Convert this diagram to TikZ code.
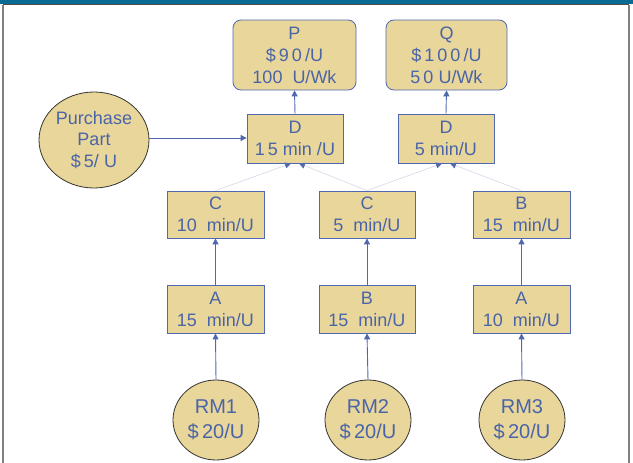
\documentclass[tikz,border=0pt]{standalone}
\usepackage{fontspec}
\setmainfont{Liberation Sans}
\usetikzlibrary{arrows.meta}
\definecolor{fillc}{HTML}{E9D69A}
\definecolor{bluec}{HTML}{4A64A8}
\definecolor{lineb}{HTML}{5068B0}
\definecolor{pale}{HTML}{D4D8EA}
\definecolor{teal}{HTML}{0A6A92}
\tikzset{
  opbox/.style={draw=lineb, line width=0.8pt, fill=fillc, text=bluec, align=center, inner sep=0pt,
    font=\fontsize{18}{22}\selectfont},
  prodbox/.style={opbox, rounded corners=8pt},
  rmtext/.style={text=bluec, align=center, font=\fontsize{20}{25}\selectfont},
  flow/.style={draw=lineb, line width=0.9pt, -{Triangle[length=6pt,width=6pt]}},
  thin/.style={draw=pale, line width=0.6pt, -{Triangle[length=6pt,width=6pt,fill=lineb,color=lineb]}}
}
\begin{document}
\begin{tikzpicture}[x=1pt,y=-1pt]
\useasboundingbox (0,0) rectangle (633,463);
\fill[white] (0,0) rectangle (633,463);
\fill[teal] (0,0) rectangle (633,4);
\draw[black!70, line width=1pt] (3,4.5) -- (629,4.5);
\draw[gray, line width=1.4pt] (3,4.5) -- (3,463);
\draw[gray, line width=1.4pt] (629,4.5) -- (629,463);

% product boxes
\node[prodbox, minimum width=123pt, minimum height=70pt] (P) at (294.5,55) {P\\\$\,9\,0\,/U\\100\ \ U/Wk};
\node[prodbox, minimum width=121pt, minimum height=70pt] (Q) at (446.5,55) {Q\\\$\,1\,0\,0\,/U\\5\,0\ U/Wk};
% D boxes
\node[opbox, minimum width=96pt, minimum height=49pt] (D1) at (295,138.5) {D\\1\,5 min /U};
\node[opbox, minimum width=96pt, minimum height=49pt] (D2) at (446,138.5) {D\\5 min/U};
% C/B row
\node[opbox, minimum width=97pt, minimum height=47pt] (C1) at (215.5,214.5) {C\\10\ \ min/U};
\node[opbox, minimum width=96pt, minimum height=47pt] (C2) at (367,214.5) {C\\5\ \ min/U};
\node[opbox, minimum width=97pt, minimum height=47pt] (B1) at (521.5,214.5) {B\\15\ \ min/U};
% A/B row
\node[opbox, minimum width=97pt, minimum height=48pt] (A1) at (215.5,309) {A\\15\ \ min/U};
\node[opbox, minimum width=96pt, minimum height=48pt] (B2) at (367,309) {B\\15\ \ min/U};
\node[opbox, minimum width=97pt, minimum height=48pt] (A2) at (521.5,309) {A\\10\ \ min/U};

% circles
\draw[black!80, line width=0.8pt, fill=fillc] (94,140) ellipse (55pt and 48pt);
\node[text=bluec, align=center, font=\fontsize{18}{21.5}\selectfont] (PP) at (94,140) {Purchase\\Part\\\$\,5/ U};
\coordinate (PPr) at (149,138);
\draw[black!80, line width=0.8pt, fill=fillc] (216,420) ellipse (43pt and 40pt);
\node[rmtext] (R1) at (216,420) {RM1\\\$\,20/U};
\draw[black!80, line width=0.8pt, fill=fillc] (368,420) ellipse (43pt and 40pt);
\node[rmtext] (R2) at (368,420) {RM2\\\$\,20/U};
\draw[black!80, line width=0.8pt, fill=fillc] (522,420) ellipse (43pt and 40pt);
\node[rmtext] (R3) at (522,420) {RM3\\\$\,20/U};
\coordinate (R1t) at (216,380);
\coordinate (R2t) at (368,380);
\coordinate (R3t) at (522,380);

% flows
\draw[flow] (PPr) -- (D1.west |- PPr);
\draw[flow] (D1.north) -- (P.south);
\draw[flow] (D2.north) -- (Q.south);
\draw[flow] (A1.north) -- (C1.south);
\draw[flow] (B2.north) -- (C2.south);
\draw[flow] (A2.north) -- (B1.south);
\draw[flow] (R1t) -- (A1.south);
\draw[flow] (R2t) -- (B2.south);
\draw[flow] (R3t) -- (A2.south);

% thin assembly lines
\draw[thin] (C1.north) -- ([xshift=-4pt]D1.south);
\draw[thin] (C2.north) -- ([xshift=4pt]D1.south);
\draw[thin] (C2.north) -- ([xshift=-4pt]D2.south);
\draw[thin] (B1.north) -- ([xshift=4pt]D2.south);
\end{tikzpicture}
\end{document}
